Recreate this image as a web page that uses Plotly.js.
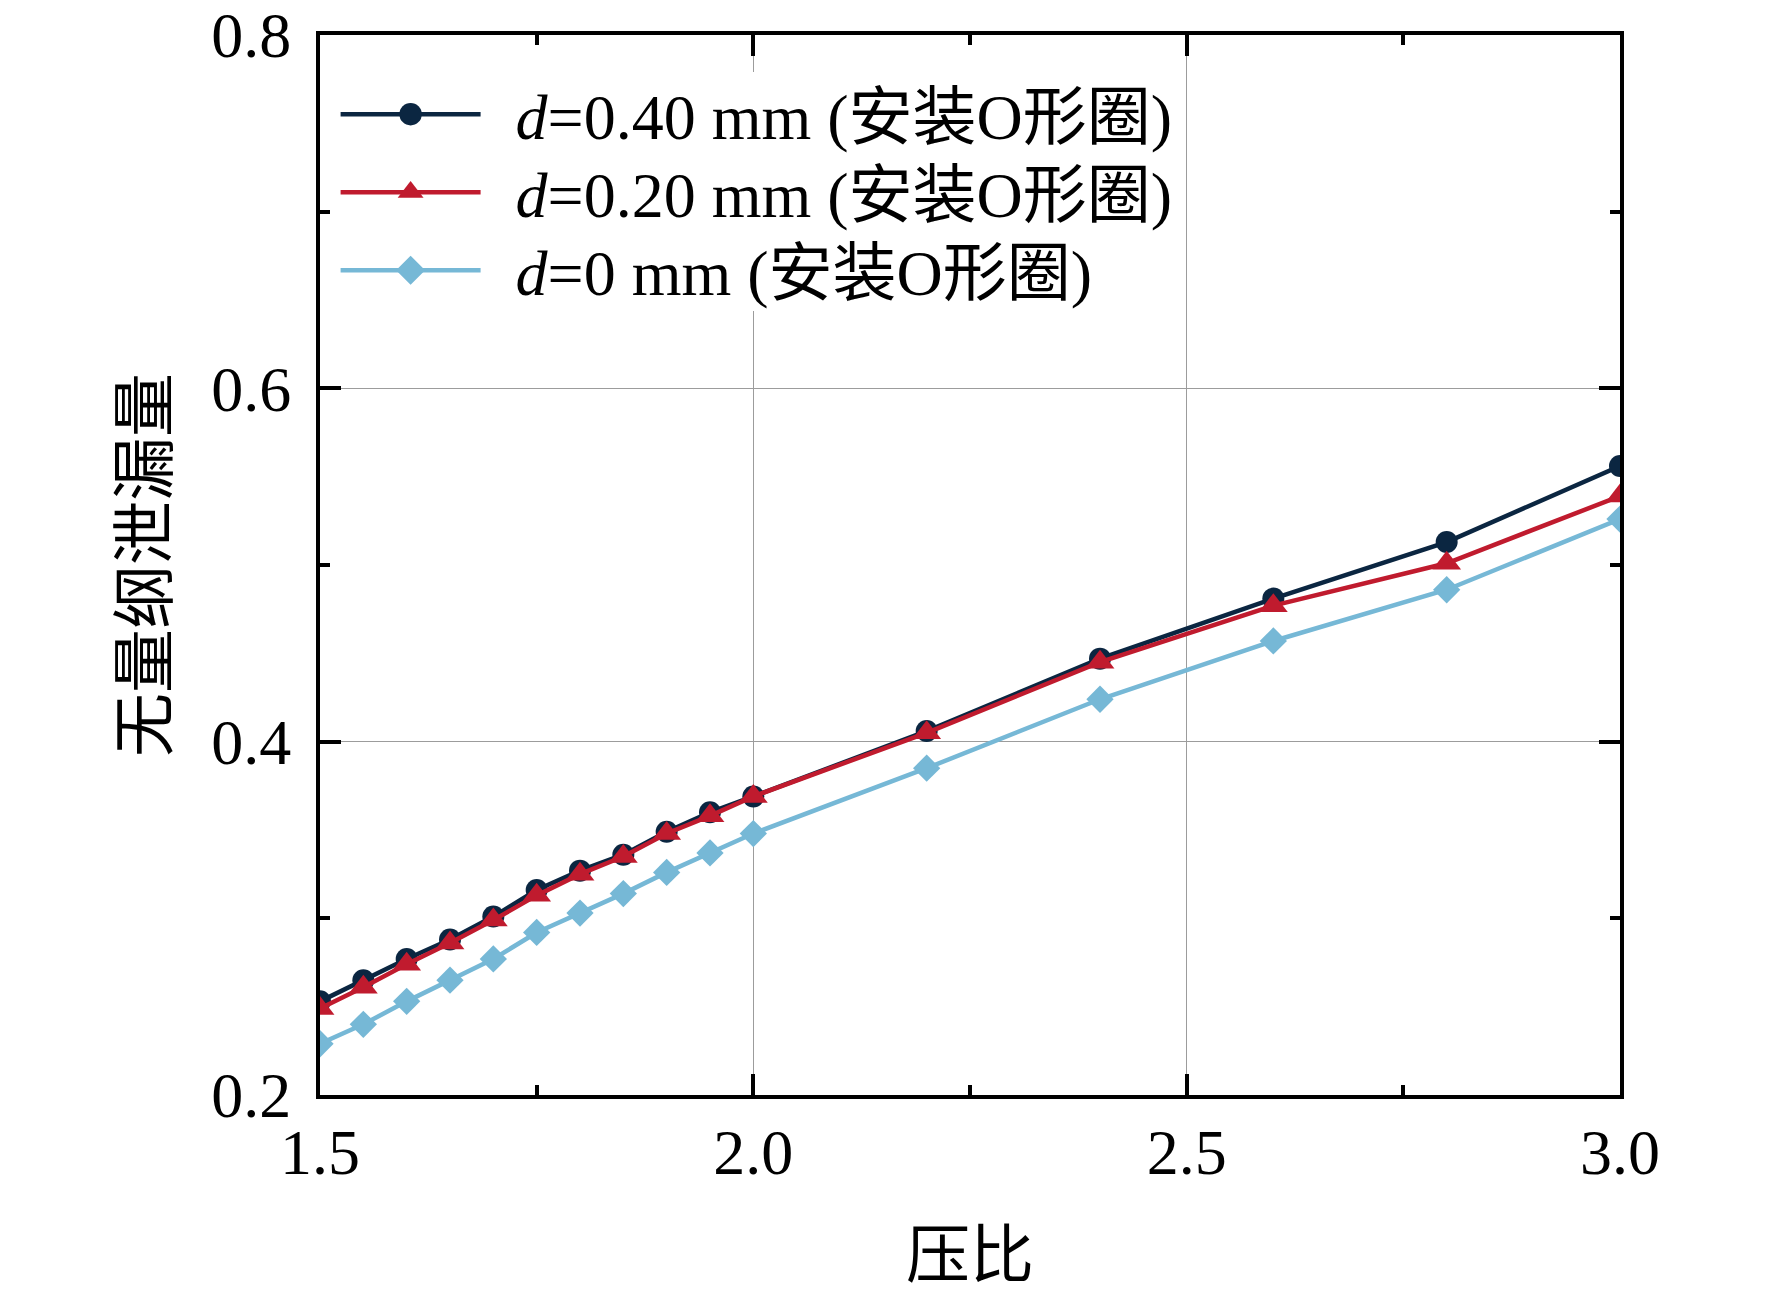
<!DOCTYPE html>
<html>
<head>
<meta charset="utf-8">
<script src="https://cdn.plot.ly/plotly-3.0.1.min.js"></script>
<style>
    html, body { margin: 0; padding: 0; background: #fff; }
    #chart { width: 1772px; height: 1291px; }
</style>
</head>
<body>
<div id="chart"></div>
<script>
// pressure ratio
const pressureRatio = [1.5, 1.55, 1.6, 1.65, 1.7, 1.75, 1.8, 1.85, 1.9, 1.95, 2.0, 2.2, 2.4, 2.6, 2.8, 3.0];

// dimensionless leakage for each clearance d
const leakD040 = [0.253, 0.265, 0.277, 0.288, 0.301, 0.316, 0.327, 0.336, 0.349, 0.360, 0.369, 0.406, 0.447, 0.481, 0.513, 0.556];
const leakD020 = [0.249, 0.261, 0.274, 0.286, 0.299, 0.313, 0.325, 0.335, 0.348, 0.358, 0.369, 0.405, 0.445, 0.477, 0.501, 0.539];
const leakD000 = [0.229, 0.240, 0.253, 0.265, 0.277, 0.292, 0.303, 0.314, 0.326, 0.337, 0.348, 0.385, 0.424, 0.457, 0.486, 0.526];

const seriesNames = [
    '<i>d</i>=0.40 mm (安装O形圈)',
    '<i>d</i>=0.20 mm (安装O形圈)',
    '<i>d</i>=0 mm (安装O形圈)'
];

const xTickVals = [1.5, 2.0, 2.5, 3.0];
const xTickText = ['1.5', '2.0', '2.5', '3.0'];
const yTickVals = [0.2, 0.4, 0.6, 0.8];
const yTickText = ['0.2', '0.4', '0.6', '0.8'];

const FONT = 'Liberation Serif, Times New Roman, Noto Sans CJK SC, serif';

function makeTrace(y, name, color, symbol, size) {
    return {
        x: pressureRatio,
        y: y,
        name: name,
        type: 'scatter',
        mode: 'lines+markers',
        line: { color: color, width: 4.5 },
        marker: { color: color, symbol: symbol, size: size }
    };
}

function axisBase() {
    return {
        showline: true,
        linecolor: '#000',
        linewidth: 4,
        mirror: 'ticks',
        ticks: 'inside',
        ticklen: 21,
        tickwidth: 4,
        tickcolor: '#000',
        showgrid: true,
        gridcolor: '#9c9c9c',
        gridwidth: 1.5,
        zeroline: false,
        tickfont: { family: FONT, size: 64, color: '#000' }
    };
}

const traces = [
    makeTrace(leakD040, seriesNames[0], '#0b2641', 'circle', 22),
    makeTrace(leakD020, seriesNames[1], '#c01b2e', 'triangle-up', 25),
    makeTrace(leakD000, seriesNames[2], '#76b8d6', 'diamond', 21)
];

const xaxis = Object.assign(axisBase(), {
    range: [1.5, 3.0],
    tickmode: 'array',
    tickvals: xTickVals,
    ticktext: xTickText,
    ticklabelstandoff: -2,
    minor: { dtick: 0.25, tick0: 1.5, ticks: 'inside', ticklen: 10, tickwidth: 4, tickcolor: '#000', showgrid: false },
    title: { text: '压比', font: { family: FONT, size: 64, color: '#000' }, standoff: 48 }
});

const yaxis = Object.assign(axisBase(), {
    range: [0.2, 0.8],
    tickmode: 'array',
    tickvals: yTickVals,
    ticktext: yTickText,
    ticklabelstandoff: 12,
    minor: { dtick: 0.1, tick0: 0.2, ticks: 'inside', ticklen: 10, tickwidth: 4, tickcolor: '#000', showgrid: false },
    title: { text: '无量纲泄漏量', font: { family: FONT, size: 64, color: '#000' }, standoff: 24 }
});

const layout = {
    width: 1772,
    height: 1291,
    margin: { l: 320, r: 152, t: 35, b: 196 },
    paper_bgcolor: '#fff',
    plot_bgcolor: '#fff',
    font: { family: FONT, color: '#000' },
    xaxis: xaxis,
    yaxis: yaxis,
    showlegend: true,
    legend: {
        x: 0.012,
        y: 0.965,
        xanchor: 'left',
        yanchor: 'top',
        bgcolor: '#fff',
        borderwidth: 0,
        itemwidth: 140,
        tracegroupgap: 0,
        font: { family: FONT, size: 64, color: '#000' }
    }
};

// legend tweaks plotly has no option for: bigger symbols, wider text gap, tighter rows
function tidyLegend(gd) {
    const rowGap = 78;
    const items = gd.querySelectorAll('.legend .traces');
    let firstY = null;
    let oldGap = 0;
    items.forEach((g, i) => {
        const m = /translate\(([-\d.]+),\s*([-\d.]+)\)/.exec(g.getAttribute('transform') || '');
        if (!m) return;
        const tx = parseFloat(m[1]);
        const ty = parseFloat(m[2]);
        if (i === 0) firstY = ty;
        if (i === 1) oldGap = ty - firstY;
        g.setAttribute('transform', 'translate(' + tx + ',' + (firstY - 6 + i * rowGap) + ')');
    });
    gd.querySelectorAll('.legend .legendpoints path').forEach((p) => {
        const t = p.getAttribute('transform') || '';
        p.setAttribute('transform', t + ' scale(1.4)');
    });
    gd.querySelectorAll('.legend text.legendtext').forEach((t) => {
        t.setAttribute('x', parseFloat(t.getAttribute('x') || 0) + 30);
    });
    // text was moved right, so let it spill past the legend clip box
    gd.querySelectorAll('.legend .scrollbox').forEach((s) => s.removeAttribute('clip-path'));
    const bg = gd.querySelector('.legend rect.bg');
    if (bg && oldGap) {
        const h = parseFloat(bg.getAttribute('height'));
        bg.setAttribute('height', h - (oldGap - rowGap) * items.length - 6);
        bg.setAttribute('width', parseFloat(bg.getAttribute('width')) + 30);
    }
}

const chartDiv = document.getElementById('chart');
Plotly.newPlot(chartDiv, traces, layout, { staticPlot: true }).then(tidyLegend);
</script>
</body>
</html>
